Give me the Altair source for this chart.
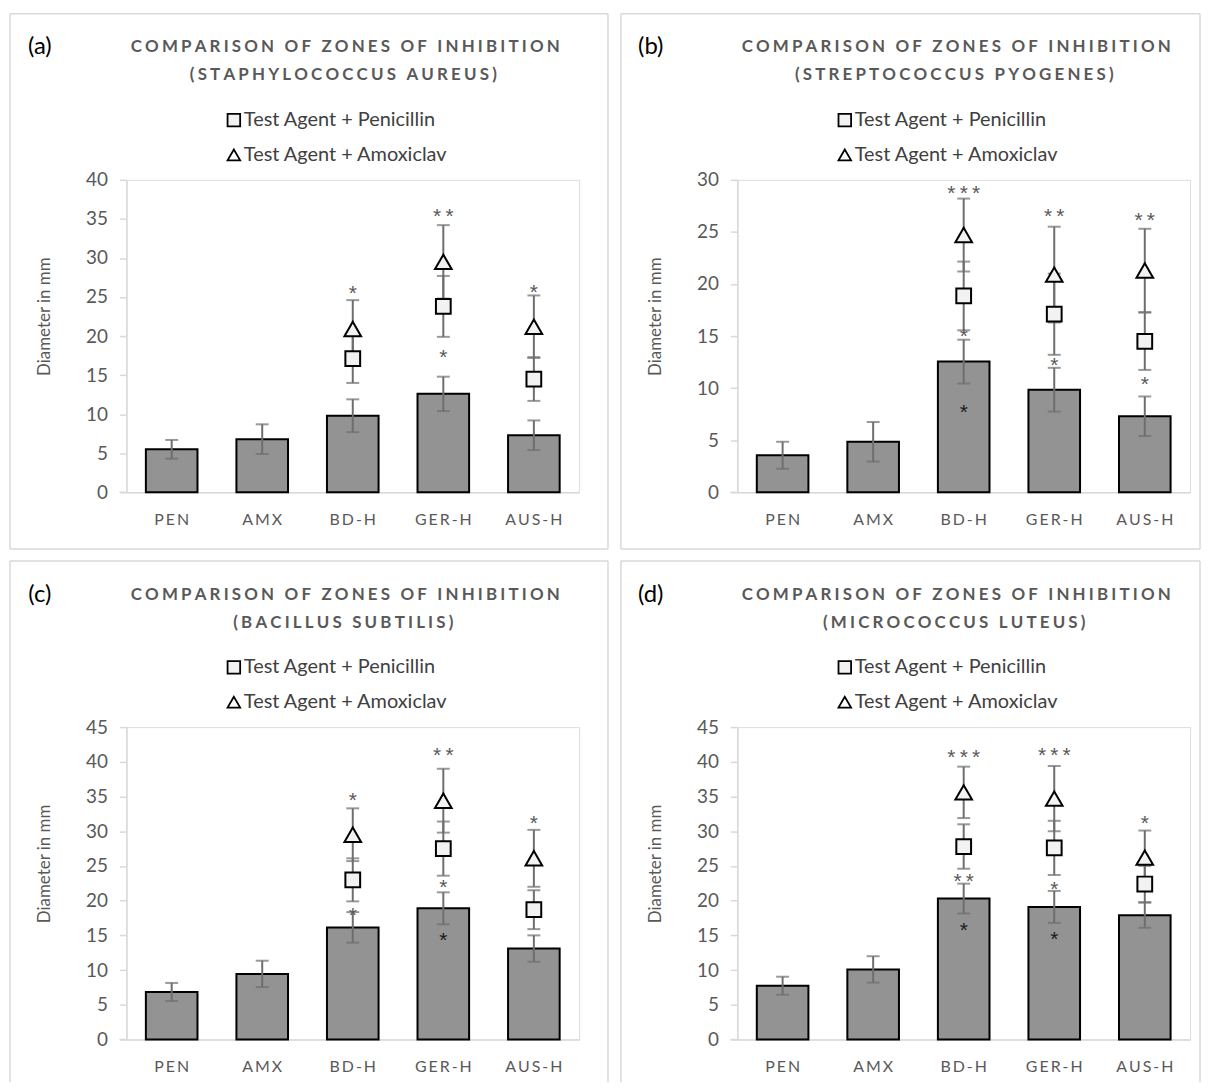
import altair as alt
import pandas as pd

categories = ["PEN", "AMX", "BD-H", "GER-H", "AUS-H"]
agents = ["BD-H", "GER-H", "AUS-H"]
series_names = ["Test Agent + Penicillin", "Test Agent + Amoxiclav"]
title_main = "COMPARISON OF ZONES OF INHIBITION"
organisms = ["(STAPHYLOCOCCUS AUREUS)", "(STREPTOCOCCUS PYOGENES)",
             "(BACILLUS SUBTILIS)", "(MICROCOCCUS LUTEUS)"]
letters = ["(a)", "(b)", "(c)", "(d)"]
y_axis_title = "Diameter in mm"
y_max = [40, 30, 45, 45]

# ---------------- (a) Staphylococcus aureus
bar_a = [5.5, 6.8, 9.8, 12.6, 7.3]
bar_err_a = [1.2, 1.9, 2.1, 2.2, 1.9]
pen_a = [17.1, 23.8, 14.5]
pen_err_a = [3.1, 3.9, 2.8]
amx_a = [20.9, 29.5, 21.2]
amx_err_a = [3.7, 4.7, 4.0]
star_cat_a = ["BD-H", "GER-H", "GER-H", "AUS-H"]
star_y_a = [26.0, 35.9, 17.8, 26.2]
star_txt_a = ["*", "**", "*", "*"]
star_tone_a = ["gray", "gray", "gray", "gray"]

# ---------------- (b) Streptococcus pyogenes
bar_b = [3.55, 4.85, 12.55, 9.85, 7.3]
bar_err_b = [1.3, 1.9, 2.1, 2.1, 1.9]
pen_b = [18.85, 17.1, 14.5]
pen_err_b = [3.3, 3.9, 2.75]
amx_b = [24.7, 20.9, 21.3]
amx_err_b = [3.5, 4.6, 4.0]
star_cat_b = ["BD-H", "BD-H", "BD-H", "GER-H", "GER-H", "AUS-H", "AUS-H"]
star_y_b = [29.1, 15.4, 8.1, 26.9, 12.6, 26.55, 10.8]
star_txt_b = ["***", "*", "*", "**", "*", "**", "*"]
star_tone_b = ["gray", "gray", "dark", "gray", "gray", "gray", "gray"]

# ---------------- (c) Bacillus subtilis
bar_c = [6.85, 9.45, 16.15, 18.9, 13.1]
bar_err_c = [1.3, 1.9, 2.2, 2.3, 1.9]
pen_c = [23.0, 27.5, 18.7]
pen_err_c = [3.1, 3.9, 2.8]
amx_c = [29.5, 34.4, 26.1]
amx_err_c = [3.8, 4.6, 4.1]
star_cat_c = ["BD-H", "BD-H", "GER-H", "GER-H", "GER-H", "AUS-H"]
star_y_c = [35.1, 18.5, 41.6, 22.5, 14.9, 31.8]
star_txt_c = ["*", "*", "**", "*", "*", "*"]
star_tone_c = ["gray", "gray", "gray", "gray", "dark", "gray"]

# ---------------- (d) Micrococcus luteus
bar_d = [7.75, 10.1, 20.3, 19.1, 17.9]
bar_err_d = [1.3, 1.9, 2.15, 2.3, 1.8]
pen_d = [27.8, 27.6, 22.4]
pen_err_d = [3.2, 3.9, 2.6]
amx_d = [35.6, 34.7, 26.2]
amx_err_d = [3.7, 4.7, 3.9]
star_cat_d = ["BD-H", "BD-H", "BD-H", "GER-H", "GER-H", "GER-H", "AUS-H"]
star_y_d = [41.2, 23.4, 16.3, 41.5, 22.3, 15.1, 31.8]
star_txt_d = ["***", "**", "*", "***", "*", "*", "*"]
star_tone_d = ["gray", "gray", "dark", "gray", "gray", "dark", "gray"]

FONT = "Lato"
STAR_FONT = "Liberation Sans"
GRAY_TXT = "#595959"
AXIS_LINE = "#d9d9d9"
BORDER = "#d9d9d9"
BAR_FILL = "#939393"
ERR = "#6e6e6e"
MARKER_FILL = "#f2f2f2"
TS = "\u2009"
TITLE_SEP = "\u2009\u200a"

W, H = 455, 314


def spaced(s, sep):
    return sep.join(list(s))


def err_frame(cats, vals, errs):
    df = pd.DataFrame({"cat": cats, "val": vals, "err": errs})
    df["lo"] = df["val"] - df["err"]
    df["hi"] = df["val"] + df["err"]
    return df


def text_layer(txt, x, y, size, color, weight="normal", align="center"):
    return alt.Chart(pd.DataFrame({"t": [txt]})).mark_text(
        font=FONT, fontSize=size, color=color, fontWeight=weight,
        align=align, baseline="middle"
    ).encode(x=alt.value(x), y=alt.value(y), text="t:N")


def rule_layer(x1, y1, x2, y2, color, width):
    return alt.Chart(pd.DataFrame({"t": [0]})).mark_rule(
        color=color, strokeWidth=width).encode(
        x=alt.value(x1), y=alt.value(y1), x2=alt.value(x2), y2=alt.value(y2))


def panel(i, bars, bar_err, pen, pen_err, amx, amx_err,
          s_cat, s_y, s_txt, s_tone, right_x, bottom_y, closed):
    ymax = y_max[i]
    xsc = alt.Scale(domain=categories, paddingInner=0.43, paddingOuter=0.215)
    ysc = alt.Scale(domain=[0, ymax], nice=False, zero=True)
    xax = alt.Axis(
        title=None, labelExpr="join(split(datum.label, ''), '" + TS + "')",
        labelFont=FONT, labelFontSize=16, labelColor=GRAY_TXT, labelPadding=19,
        ticks=False, domainColor=AXIS_LINE, domainWidth=1.5, labelAngle=0, grid=False)
    yax = alt.Axis(
        title=y_axis_title, values=list(range(0, ymax + 1, 5)),
        labelFont=FONT, labelFontSize=19, labelColor=GRAY_TXT, labelPadding=12,
        tickColor=AXIS_LINE, tickSize=7, tickWidth=1.5,
        domainColor=AXIS_LINE, domainWidth=1.5, grid=False,
        titleFont=FONT, titleFontSize=17, titleFontWeight="normal", titleColor=GRAY_TXT,
        titleAngle=270, titleX=-82, titleY=137, titleAlign="center", titleBaseline="middle")

    X = lambda: alt.X("cat:N", scale=xsc, sort=categories, axis=xax)
    Y = lambda f: alt.Y(f, scale=ysc, axis=yax)

    bdf = err_frame(categories, bars, bar_err)
    pdf = err_frame(agents, pen, pen_err)
    adf = err_frame(agents, amx, amx_err)

    layers = []
    layers.append(alt.Chart(bdf).mark_bar(fill=BAR_FILL, stroke="black", strokeWidth=2).encode(
        x=X(), y=Y("val:Q")))

    for df in (bdf, pdf, adf):
        layers.append(alt.Chart(df).mark_rule(color=ERR, strokeWidth=2).encode(
            x=X(), y=Y("lo:Q"), y2="hi:Q"))
        layers.append(alt.Chart(df).transform_fold(["lo", "hi"], as_=["end", "yv"]).mark_tick(
            color=ERR, thickness=2, size=13).encode(x=X(), y=Y("yv:Q")))

    layers.append(alt.Chart(pdf).mark_point(
        shape="square", size=220, filled=True, fill=MARKER_FILL, stroke="black",
        strokeWidth=2, opacity=1).encode(x=X(), y=Y("val:Q")))
    layers.append(alt.Chart(adf).mark_point(
        shape="triangle-up", size=280, filled=True, fill=MARKER_FILL, stroke="black",
        strokeWidth=2, opacity=1).encode(x=X(), y=Y("val:Q")))

    sdf = pd.DataFrame({"cat": s_cat, "y": s_y,
                        "txt": [TS.join(list(t)) for t in s_txt], "tone": s_tone})
    for tone, col in (("gray", GRAY_TXT), ("dark", "#1a1a1a")):
        layers.append(alt.Chart(sdf).transform_filter(alt.datum.tone == tone).mark_text(
            font=STAR_FONT, fontSize=21, baseline="middle", dy=5, color=col).encode(
            x=X(), y=Y("y:Q"), text="txt:N"))

    # x-axis line continues left under the y ticks
    layers.append(rule_layer(-7, H, 0, H, AXIS_LINE, 1.5))

    # titles, panel letter and legend
    layers.append(text_layer(letters[i], -87, -133, 24, "black"))
    layers.append(text_layer(spaced(title_main, TITLE_SEP), 220, -133, 17, GRAY_TXT, weight="bold"))
    layers.append(text_layer(spaced(organisms[i], TITLE_SEP), 218, -105, 17, GRAY_TXT, weight="bold"))
    layers.append(alt.Chart(pd.DataFrame({"t": [series_names[0]]})).mark_point(
        shape="square", size=160, filled=True, fill=MARKER_FILL, stroke="black",
        strokeWidth=1.8, opacity=1).encode(x=alt.value(108), y=alt.value(-60)))
    layers.append(alt.Chart(pd.DataFrame({"t": [series_names[1]]})).mark_point(
        shape="triangle-up", size=160, filled=True, fill="white", stroke="black",
        strokeWidth=1.8, opacity=1).encode(x=alt.value(108), y=alt.value(-25)))
    layers.append(text_layer(series_names[0], 118, -60, 20, "#404040", align="left"))
    layers.append(text_layer(series_names[1], 118, -25, 20, "#404040", align="left"))

    # panel border
    top = -167
    edges = [(-117, top, right_x, top), (-117, top, -117, bottom_y), (right_x, top, right_x, bottom_y)]
    if closed:
        edges.append((-117, bottom_y, right_x, bottom_y))
    for (x1, y1, x2, y2) in edges:
        layers.append(rule_layer(x1, y1, x2, y2, BORDER, 1.5))

    return alt.layer(*layers).properties(width=W, height=H)


pa = panel(0, bar_a, bar_err_a, pen_a, pen_err_a, amx_a, amx_err_a,
           star_cat_a, star_y_a, star_txt_a, star_tone_a, 484, 371, True)
pb = panel(1, bar_b, bar_err_b, pen_b, pen_err_b, amx_b, amx_err_b,
           star_cat_b, star_y_b, star_txt_b, star_tone_b, 465, 371, True)
pc = panel(2, bar_c, bar_err_c, pen_c, pen_err_c, amx_c, amx_err_c,
           star_cat_c, star_y_c, star_txt_c, star_tone_c, 484, 357, False)
pdd = panel(3, bar_d, bar_err_d, pen_d, pen_err_d, amx_d, amx_err_d,
            star_cat_d, star_y_d, star_txt_d, star_tone_d, 465, 357, False)

chart = alt.vconcat(
    alt.hconcat(pa, pb, spacing=9),
    alt.hconcat(pc, pdd, spacing=9),
    spacing=8,
).properties(
    padding={"left": 0, "top": 1, "right": 0, "bottom": 0}
).configure_view(strokeWidth=0).configure(font=FONT)

chart.save("out.html", embed_options={"renderer": "svg", "actions": False})
